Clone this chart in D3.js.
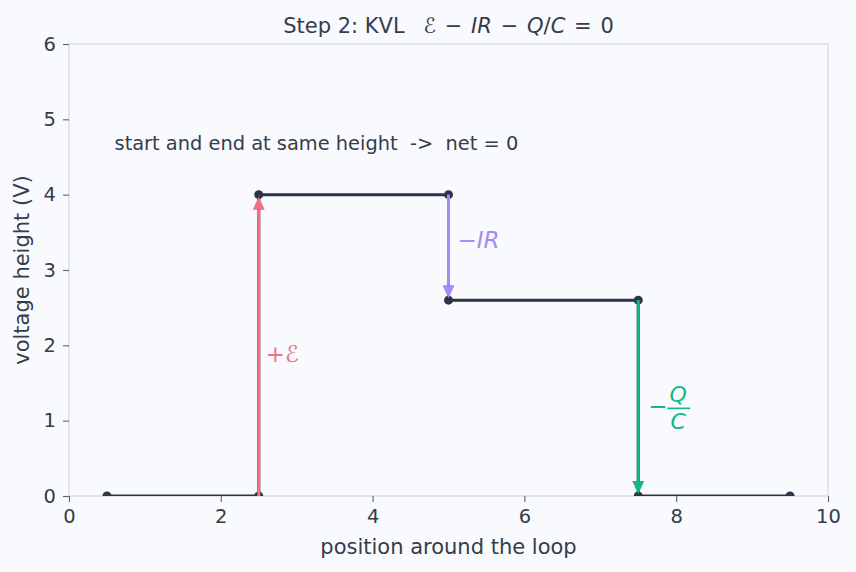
<!DOCTYPE html>
<html>
<head>
<meta charset="utf-8">
<script src="https://cdn.jsdelivr.net/npm/d3@7"></script>
<style>
  body { margin: 0; background: #f9fafd; }
  text { font-family: "DejaVu Sans", sans-serif; fill: #353c4a; }
</style>
</head>
<body>
<div id="chart"></div>
<script>
// data for the loop walk
var pathX = [0.5, 2.5, 2.5, 5, 5, 7.5, 7.5, 9.5];
var pathY = [0, 0, 4, 4, 2.6, 2.6, 0, 0];
// arrows: x, from, to, colour
var arrowX = [2.5, 5, 7.5];
var arrowFrom = [0, 4, 2.6];
var arrowTo = [4, 2.6, 0];
var arrowColor = ["#f07282", "#a78bfa", "#10b981"];
var xTicks = [0, 2, 4, 6, 8, 10];
var yTicks = [0, 1, 2, 3, 4, 5, 6];

var width = 856, height = 572;
var margin = { top: 44, left: 69, right: 28, bottom: 76 };

var svg = d3.select("#chart").append("svg")
  .attr("width", width).attr("height", height)
  .style("background", "#f9fafd");

var x = d3.scaleLinear().domain([0, 10]).range([margin.left, width - margin.right]);
var y = d3.scaleLinear().domain([0, 6]).range([height - margin.bottom, margin.top]);

// clip to axes
svg.append("clipPath").attr("id", "clip")
  .append("rect")
  .attr("x", x(0)).attr("y", y(6))
  .attr("width", x(10) - x(0)).attr("height", y(0) - y(6));

// frame
svg.append("rect")
  .attr("x", x(0)).attr("y", y(6))
  .attr("width", x(10) - x(0)).attr("height", y(0) - y(6))
  .attr("fill", "none").attr("stroke", "#d3d8e4").attr("stroke-width", 1.2);

// axes
var xAxis = svg.append("g")
  .attr("transform", "translate(0," + y(0) + ")")
  .call(d3.axisBottom(x).tickValues(xTicks).tickSize(6).tickPadding(7).tickFormat(d3.format("d")));
var yAxis = svg.append("g")
  .attr("transform", "translate(" + x(0) + ",0)")
  .call(d3.axisLeft(y).tickValues(yTicks).tickSize(6).tickPadding(7).tickFormat(d3.format("d")));
[xAxis, yAxis].forEach(function(a) {
  a.select(".domain").remove();
  a.selectAll(".tick line").attr("stroke", "#5b6270").attr("stroke-width", 1.1);
  a.selectAll(".tick text").style("font-size", "19.5px").attr("fill", "#353c4a")
    .style("font-family", "DejaVu Sans, sans-serif");
});

// labels
svg.append("text")
  .attr("x", (x(0) + x(10)) / 2).attr("y", 33)
  .attr("text-anchor", "middle").style("font-size", "21px")
  .style("white-space", "pre")
  .html('Step 2: KVL  \u2005<tspan>\u2130</tspan> \u200A\u2212 \u200A<tspan font-style="italic">IR</tspan> \u200A\u2212 \u200A<tspan font-style="italic">Q</tspan>/<tspan font-style="italic">C</tspan> \u200A= \u200A0');

svg.append("text")
  .attr("x", (x(0) + x(10)) / 2).attr("y", 554)
  .attr("text-anchor", "middle").style("font-size", "21px")
  .text("position around the loop");

svg.append("text")
  .attr("transform", "translate(29," + ((y(0) + y(6)) / 2) + ") rotate(-90)")
  .attr("text-anchor", "middle").style("font-size", "21px")
  .text("voltage height (V)");

svg.append("text")
  .attr("x", x(0.6)).attr("y", y(4.68)).attr("dy", "0.35em")
  .style("font-size", "19.4px").style("white-space", "pre")
  .text("start and end at same height  ->  net = 0");

var plot = svg.append("g").attr("clip-path", "url(#clip)");

var pts = pathX.map(function(d, i) { return [d, pathY[i]]; });

plot.append("path")
  .datum(pts)
  .attr("d", d3.line().x(function(d) { return x(d[0]); }).y(function(d) { return y(d[1]); }))
  .attr("fill", "none").attr("stroke", "#2d3548").attr("stroke-width", 3);

plot.selectAll(".dot").data(pts).enter().append("circle")
  .attr("class", "dot")
  .attr("cx", function(d) { return x(d[0]); })
  .attr("cy", function(d) { return y(d[1]); })
  .attr("r", 4.5).attr("fill", "#2d3548");

// arrows
var headLen = 13, headW = 6;
arrowX.forEach(function(ax, i) {
  var px = x(ax), y0 = y(arrowFrom[i]), y1 = y(arrowTo[i]);
  var dir = y1 < y0 ? -1 : 1; // -1 upward
  var tip = y1 - dir * 2;
  var base = tip - dir * headLen;
  plot.append("line")
    .attr("x1", px).attr("x2", px)
    .attr("y1", y0).attr("y2", base)
    .attr("stroke", arrowColor[i]).attr("stroke-width", 3);
  plot.append("path")
    .attr("d", "M" + px + "," + tip + "L" + (px - headW) + "," + base + "L" + (px + headW) + "," + base + "Z")
    .attr("fill", arrowColor[i]);
});

// arrow labels
svg.append("text")
  .attr("x", x(2.5) + 7).attr("y", y(1.88)).attr("dy", "0.35em")
  .style("font-size", "23px").style("fill", arrowColor[0])
  .text("+\u2130");

svg.append("text")
  .attr("x", x(5) + 9).attr("y", y(3.4)).attr("dy", "0.35em")
  .style("font-size", "23px").style("fill", arrowColor[1])
  .html('\u2212<tspan font-style="italic">IR</tspan>');

var fx = x(7.5) + 10, fy = y(1.19);
var frac = svg.append("g");
frac.append("text").attr("x", fx).attr("y", fy).attr("dy", "0.35em")
  .style("font-size", "23px").style("fill", arrowColor[2]).text("\u2212");
frac.append("text").attr("x", fx + 30).attr("y", fy - 4)
  .attr("text-anchor", "middle").style("font-size", "22px").style("font-style", "italic")
  .style("fill", arrowColor[2]).text("Q");
frac.append("line").attr("x1", fx + 19).attr("x2", fx + 42)
  .attr("y1", fy + 2).attr("y2", fy + 2)
  .attr("stroke", arrowColor[2]).attr("stroke-width", 1.6);
frac.append("text").attr("x", fx + 30).attr("y", fy + 23)
  .attr("text-anchor", "middle").style("font-size", "22px").style("font-style", "italic")
  .style("fill", arrowColor[2]).text("C");
</script>
</body>
</html>
